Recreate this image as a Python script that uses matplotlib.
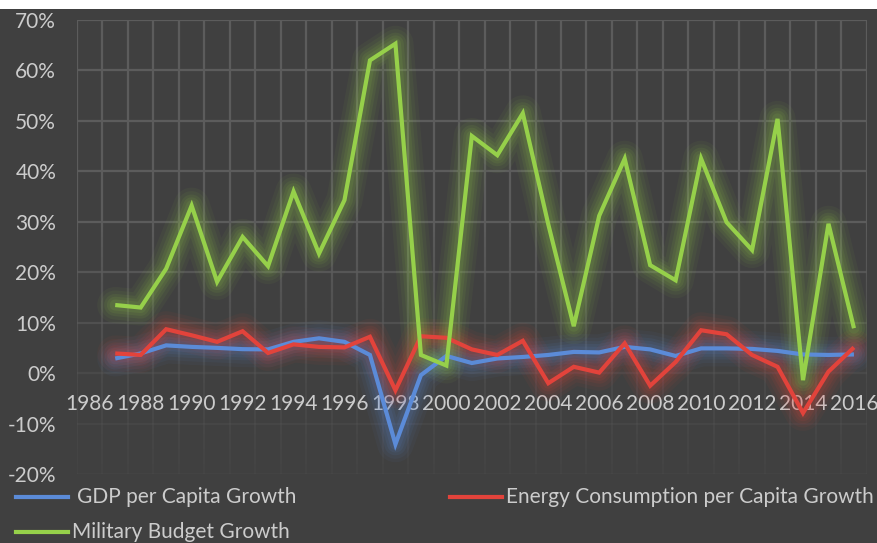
import numpy as np
import matplotlib
matplotlib.use("Agg")
import matplotlib.pyplot as plt
from matplotlib.lines import Line2D
from matplotlib.collections import LineCollection
from matplotlib.ticker import FuncFormatter

# ---- data (growth rates, %) ----
years = list(range(1987, 2017))
gdp_growth = [2.9, 3.9, 5.5, 5.2, 5.0, 4.75, 4.7, 6.2, 6.9, 6.2,
              3.6, -14.1, -0.4, 3.4, 2.0, 2.9, 3.2, 3.6, 4.2, 4.1,
              5.2, 4.7, 3.4, 4.9, 4.9, 4.8, 4.4, 3.7, 3.6, 3.7]
energy_growth = [3.9, 3.6, 8.7, 7.5, 6.2, 8.3, 4.0, 5.7, 5.2, 5.1,
                 7.2, -3.4, 7.3, 7.0, 4.7, 3.6, 6.4, -2.0, 1.25, 0.1,
                 5.9, -2.5, 2.2, 8.5, 7.7, 3.6, 1.25, -7.9, 0.3, 5.1]
military_growth = [13.5, 13.0, 20.7, 33.2, 18.1, 27.0, 21.2, 36.0, 23.7, 34.3,
                   62.0, 65.3, 3.6, 1.5, 47.0, 43.2, 51.5, 29.5, 9.3, 31.2,
                   42.5, 21.4, 18.4, 42.5, 29.9, 24.4, 50.4, -1.4, 29.6, 8.9]
category_years = list(range(1986, 2017))
year_labels = [str(y) for y in range(1986, 2017, 2)]
y_ticks = [-20, -10, 0, 10, 20, 30, 40, 50, 60, 70]

series_names = ["GDP per Capita Growth",
                "Energy Consumption per Capita Growth",
                "Military Budget Growth"]

BG = "#404040"
GRID = "#5c5c5c"
TEXT = "#cccccc"
BLUE = "#5b8bd8"
RED = "#e2433b"
GREEN = "#96d04a"
FS = 15

plt.rcParams["font.family"] = ["Lato", "DejaVu Sans"]

W, H = 877, 543
fig = plt.figure(figsize=(W / 100, H / 100), dpi=100, facecolor=BG)
# white strip along the top edge
fig.add_artist(plt.Rectangle((0, 1 - 9 / H), 1, 9 / H, transform=fig.transFigure,
                             facecolor="white", edgecolor="none", zorder=0))

ax = fig.add_axes([77 / W, 1 - 474 / H, (866.7 - 77) / W, (474 - 20) / H])
ax.set_facecolor(BG)

x0 = category_years[0]
xpos = [y - x0 for y in years]
ax.set_xlim(-0.5, len(category_years) - 0.5)
ax.set_ylim(y_ticks[0], y_ticks[-1])


def grid_alpha(v):
    # gridlines fade out towards the bottom of the plot
    return float(np.interp(v, [-20, 0, 10, 30, 70], [0.12, 0.35, 0.6, 1.0, 1.0]))


rgb = matplotlib.colors.to_rgb(GRID)
# horizontal gridlines
hsegs = [[(-0.5, v), (len(category_years) - 0.5, v)] for v in y_ticks]
hcols = [(*rgb, grid_alpha(v)) for v in y_ticks]
ax.add_collection(LineCollection(hsegs, colors=hcols, linewidths=1.6, zorder=1))
# vertical gridlines at category boundaries, drawn in short pieces to fade
steps = np.linspace(y_ticks[0], y_ticks[-1], 91)
vsegs, vcols = [], []
for k in range(len(category_years) + 1):
    xb = k - 0.5
    for a, b in zip(steps[:-1], steps[1:]):
        vsegs.append([(xb, a), (xb, b)])
        vcols.append((*rgb, grid_alpha((a + b) / 2)))
ax.add_collection(LineCollection(vsegs, colors=vcols, linewidths=1.6,
                                 capstyle="butt", zorder=1))

series = [(gdp_growth, BLUE), (energy_growth, RED), (military_growth, GREEN)]

# soft glow behind each line
for vals, col in series:
    for lw, al in [(26, 0.05), (21, 0.06), (16, 0.08), (12, 0.09), (8, 0.1)]:
        ax.plot(xpos, vals, color=col, lw=lw, alpha=al, solid_joinstyle="round",
                solid_capstyle="round", zorder=2)
for vals, col in series:
    ax.plot(xpos, vals, color=col, lw=3.0, solid_joinstyle="miter",
            solid_capstyle="butt", zorder=3)

for s in ax.spines.values():
    s.set_visible(False)

ax.set_yticks(y_ticks)
ax.yaxis.set_major_formatter(FuncFormatter(lambda v, p: f"{v:.0f}%"))
ax.tick_params(axis="y", length=0, pad=15, labelsize=FS, labelcolor=TEXT)

label_pos = [y - x0 for y in range(1986, 2017, 2)]
ax.set_xticks(label_pos)
ax.set_xticklabels(year_labels)
ax.spines["bottom"].set_position(("data", 0))
ax.tick_params(axis="x", length=0, pad=15, labelsize=FS, labelcolor=TEXT)

# legend
legend_items = [
    (series_names[0], BLUE, 16, 68, 77, 497),
    (series_names[1], RED, 450, 502, 506, 497),
    (series_names[2], GREEN, 16, 68, 72, 532),
]
for name, col, xa, xb, xt, yy in legend_items:
    fig.add_artist(Line2D([xa / W, xb / W], [1 - yy / H, 1 - yy / H],
                          transform=fig.transFigure, color=col, lw=3.0))
    fig.text(xt / W, 1 - yy / H, name, color=TEXT, fontsize=FS,
             ha="left", va="center")

fig.savefig("out.png", dpi=100, facecolor=BG)
